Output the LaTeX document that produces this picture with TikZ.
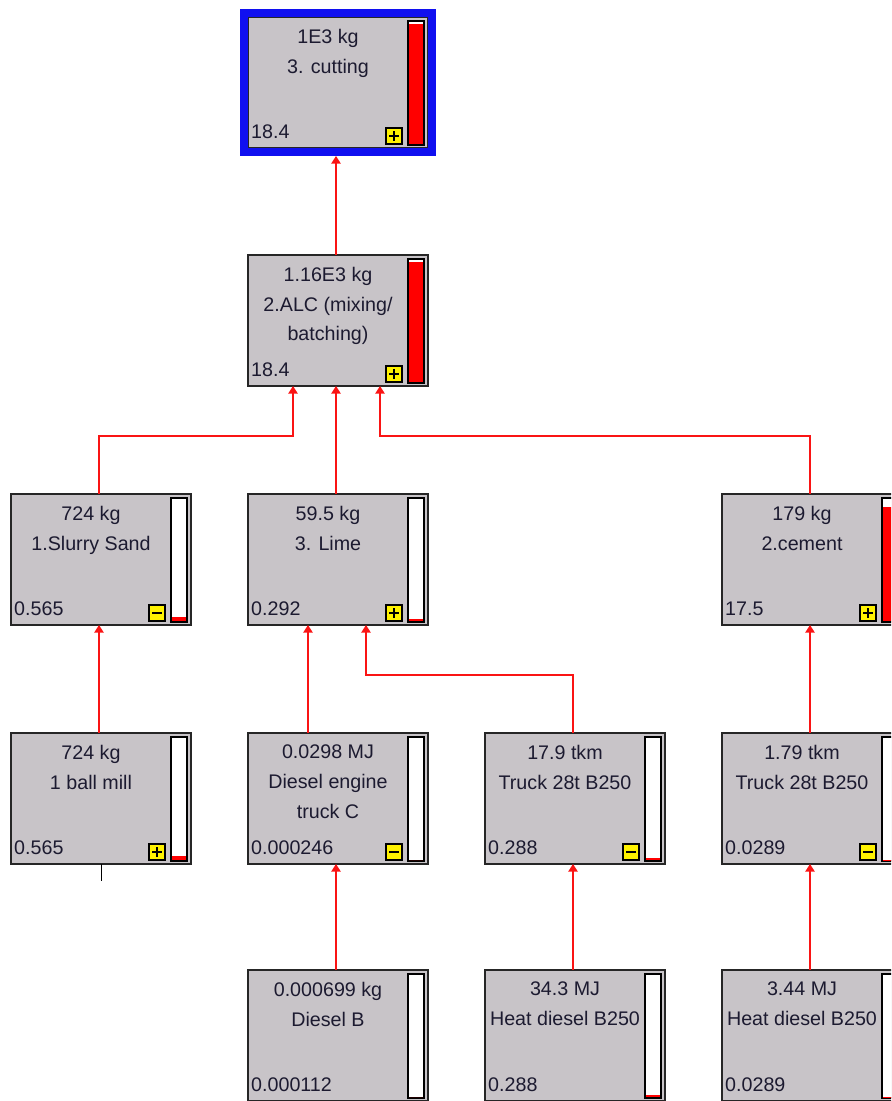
\documentclass[tikz,border=0pt]{standalone}
\usepackage{fontspec}
\setmainfont{Liberation Sans}
\usetikzlibrary{calc,arrows.meta}

\definecolor{boxgray}{RGB}{200,196,200}
\definecolor{selblue}{RGB}{16,16,240}
\definecolor{inkdark}{RGB}{28,26,48}
\definecolor{flowred}{RGB}{250,20,20}

\tikzset{
  procbox/.style={draw=black!85,line width=1.3pt,fill=boxgray,minimum width=5.4cm,minimum height=3.93cm,inner sep=0pt,outer sep=0pt,anchor=north west},
  boxtext/.style={text=inkdark,font=\fontsize{16.8pt}{25.2pt}\selectfont,align=center,inner sep=0pt},
  flow/.style={->,draw=flowred,line width=1.1pt},
  barframe/.style={draw=black,line width=1.1pt,fill=white},
  iconbox/.style={draw=black,line width=0.9pt,fill=yellow},
  selframe/.style={draw=selblue,line width=6.8pt},
}

% #1 name, #2 top left, #3 amount, #4 process, #5 score, #6 bar fraction
\newcommand\procnode[6]{%
  \node[procbox] (#1) at (#2) {};
  \node[boxtext,anchor=north] (#1-name) at ($(#1.north west)+(80,12)$) {#3\\#4};
  \node[boxtext,anchor=base west] (#1-score) at ($(#1.south west)+(3,-10)$) {#5};
  \draw[barframe] ($(#1.north west)+(160,4)$) rectangle ($(#1.south west)+(176,-3)$);
  \fill[red] ($(#1.south west)+(161,-4)$) rectangle ($(#1.south west)+(175,{-4-120*#6})$);
}
\newcommand\iconminus[1]{%
  \draw[iconbox] ($(#1.south west)+(138,-4)$) rectangle ($(#1.south west)+(154,-20)$);
  \draw[line width=1.7pt] ($(#1.south west)+(141,-12)$) -- ($(#1.south west)+(151,-12)$);
}
\newcommand\iconplus[1]{%
  \iconminus{#1}
  \draw[line width=1.7pt] ($(#1.south west)+(146,-7)$) -- ($(#1.south west)+(146,-17)$);
}

\begin{document}
\begin{tikzpicture}[x=0.03cm,y=-0.03cm,>={Triangle[width=8pt,length=6.5pt]}]
  \useasboundingbox (0,0) rectangle (891,1101);
  \clip (0,0) rectangle (891,1101);

  % processes
  \procnode{cut}{248,17}{1E3 kg}{3. cutting}{18.4}{1}
  \iconplus{cut}
  \draw[selframe] ($(cut.north west)+(-4,-4)$) rectangle ($(cut.south east)+(4,4)$);

  \procnode{alc}{248,255}{1.16E3 kg}{2.ALC (mixing/\\batching)}{18.4}{1}
  \iconplus{alc}

  \procnode{sand}{11,494}{724 kg}{1.Slurry Sand}{0.565}{0.031}
  \iconminus{sand}
  \procnode{lime}{248,494}{59.5 kg}{3. Lime}{0.292}{0.016}
  \iconplus{lime}
  \procnode{cem}{722,494}{179 kg}{2.cement}{17.5}{0.951}
  \iconplus{cem}

  \procnode{mill}{11,733}{724 kg}{1 ball mill}{0.565}{0.031}
  \iconplus{mill}
  \procnode{deng}{248,733}{0.0298 MJ}{Diesel engine\\truck C}{0.000246}{0}
  \iconminus{deng}
  \procnode{truck}{485,733}{17.9 tkm}{Truck 28t B250}{0.288}{0.0157}
  \iconminus{truck}
  \procnode{trucktwo}{722,733}{1.79 tkm}{Truck 28t B250}{0.0289}{0.0016}
  \iconminus{trucktwo}

  \procnode{dsl}{248,970}{0.000699 kg}{Diesel B}{0.000112}{0}
  \procnode{heat}{485,970}{34.3 MJ}{Heat diesel B250}{0.288}{0.0157}
  \procnode{heattwo}{722,970}{3.44 MJ}{Heat diesel B250}{0.0289}{0.0016}

  % flows
  \draw[flow] ($(alc.north)+(-2,0)$) -- ($(cut.south)+(-2,8)$);
  \draw[flow] ($(sand.north)+(-2,0)$) |- ($(alc.south)+(-45,50)$) -- ($(alc.south)+(-45,0)$);
  \draw[flow] ($(lime.north)+(-2,0)$) -- ($(alc.south)+(-2,0)$);
  \draw[flow] ($(cem.north)+(-2,0)$) |- ($(alc.south)+(42,50)$) -- ($(alc.south)+(42,0)$);
  \draw[flow] ($(mill.north)+(-2,0)$) -- ($(sand.south)+(-2,0)$);
  \draw[flow] ($(deng.north)+(-30,0)$) -- ($(lime.south)+(-30,0)$);
  \draw[flow] ($(truck.north)+(-2,0)$) |- ($(lime.south)+(28,50)$) -- ($(lime.south)+(28,0)$);
  \draw[flow] ($(trucktwo.north)+(-2,0)$) -- ($(cem.south)+(-2,0)$);
  \draw[flow] ($(dsl.north)+(-2,0)$) -- ($(deng.south)+(-2,0)$);
  \draw[flow] ($(heat.north)+(-2,0)$) -- ($(truck.south)+(-2,0)$);
  \draw[flow] ($(heattwo.north)+(-2,0)$) -- ($(trucktwo.south)+(-2,0)$);
  \draw[line width=0.8pt] (mill.south) -- ++(0,17);
\end{tikzpicture}
\end{document}
